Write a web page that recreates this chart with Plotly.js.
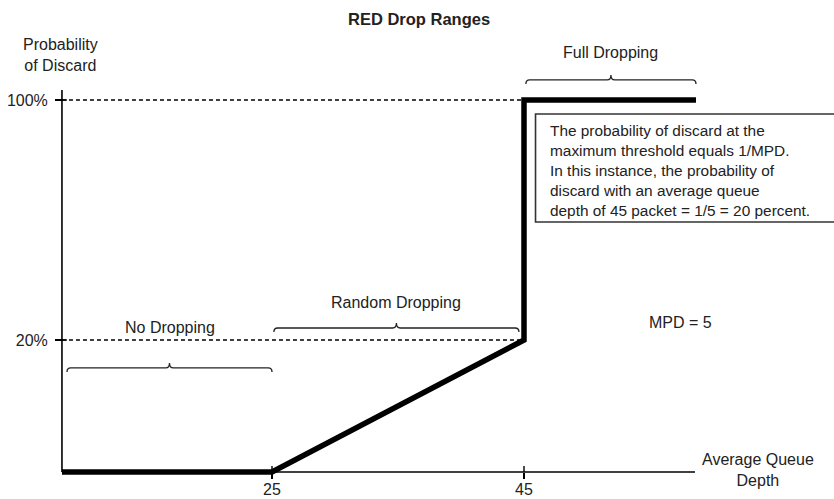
<!DOCTYPE html>
<html>
<head>
<meta charset="utf-8">
<script src="https://cdn.plot.ly/plotly-3.0.1.min.js"></script>
<style>
  html, body { margin: 0; padding: 0; background: #ffffff; }
  #chart { width: 834px; height: 499px; }
</style>
</head>
<body>
<div id="chart"></div>
<script>
// ---------------- data ----------------
const queueDepth = [8.33, 25, 45, 45, 58.65];        // average queue depth (packets)
const dropProbability = [0, 0, 20, 100, 100];         // probability of discard (%)
const xTickValues = [25, 45];
const xTickText = ['25', '45'];
const yTickValues = [20, 100];
const yTickText = ['20%', '100%'];
const rangeNames = ['No Dropping', 'Random Dropping', 'Full Dropping'];
const rangeStart = [8.33, 25, 45];
const rangeEnd = [25, 45, 58.65];
const mpdLabel = 'MPD = 5';
const noteLines = [
  'The probability of discard at the',
  'maximum threshold equals 1/MPD.',
  'In this instance, the probability of',
  'discard with an average queue',
  'depth of 45 packet = 1/5 = 20 percent.'
];

// ---------------- schematic scale ----------------
// The diagram is not to scale below 20 %: that band is stretched.
function toAxis(p) { return p >= 20 ? p : 20 - (20 - p) * 2.2; }

const X_MIN = queueDepth[0];
const X_MAX = 58.57;
const Y_FLOOR = toAxis(0);
const Y_TOP = 103.33;

const TXT = '#222222';
const FONT = 'Liberation Sans, Arial, Helvetica, sans-serif';

const trace = {
  x: queueDepth,
  y: dropProbability.map(toAxis),
  type: 'scatter',
  mode: 'lines',
  line: { color: '#000000', width: 5.5, shape: 'linear' },
  hoverinfo: 'skip',
  showlegend: false
};

const shapes = [];
// axis lines
shapes.push({ type: 'line', xref: 'x', yref: 'y', x0: X_MIN, x1: X_MIN, y0: Y_FLOOR, y1: Y_TOP,
  line: { color: '#000', width: 1.6 } });
shapes.push({ type: 'line', xref: 'x', yref: 'y', x0: X_MIN, x1: X_MAX, y0: Y_FLOOR, y1: Y_FLOOR,
  line: { color: '#000', width: 1.4 } });
// inner halves of the crossing tick marks
xTickValues.forEach(v => shapes.push({ type: 'line', xref: 'x', yref: 'y', ysizemode: 'pixel',
  yanchor: Y_FLOOR, x0: v, x1: v, y0: 0, y1: 6, line: { color: '#000', width: 1.4 } }));
yTickValues.forEach(v => shapes.push({ type: 'line', xref: 'x', yref: 'y', xsizemode: 'pixel',
  xanchor: X_MIN, x0: 0, x1: 5, y0: toAxis(v), y1: toAxis(v), line: { color: '#000', width: 1.4 } }));
// dashed reference lines
yTickValues.forEach(v => shapes.push({ type: 'line', xref: 'x', yref: 'y', x0: X_MIN, x1: xTickValues[1],
  y0: toAxis(v), y1: toAxis(v), line: { color: '#000', width: 1.5, dash: '4px,3px' } }));

// braces
const braceLevel = [10.7, 24, 106.7];
const labelShift = [40, 26, 27];
function bracePath(a, b) {
  const m = (a + b) / 2, r = 0.3;
  return `M ${a},-4 Q ${a},0 ${a + r},0 L ${m - r},0 Q ${m},0 ${m},5 Q ${m},0 ${m + r},0 L ${b - r},0 Q ${b},0 ${b},-4`;
}
const annotations = [];
rangeNames.forEach((name, i) => {
  const a = rangeStart[i] + (i === 0 ? 0.4 : 0.15);
  const b = rangeEnd[i] - (i === 1 ? 0.4 : 0);
  shapes.push({ type: 'path', xref: 'x', yref: 'y', ysizemode: 'pixel', yanchor: braceLevel[i],
    path: bracePath(a, b), line: { color: '#222', width: 1.3 } });
  annotations.push({ xref: 'x', yref: 'y', x: (a + b) / 2, y: braceLevel[i], yshift: labelShift[i],
    text: name, showarrow: false, xanchor: 'center', yanchor: 'middle',
    font: { family: FONT, size: 16, color: TXT } });
});

// note box
shapes.push({ type: 'rect', xref: 'paper', yref: 'paper', x0: 0.745, x1: 1.26, y0: 0.6275, y1: 0.892,
  line: { color: '#333', width: 1.6 }, fillcolor: 'rgba(255,255,255,0)' });
annotations.push({ xref: 'paper', yref: 'paper', x: 0.7643, y: 0.7525, xanchor: 'left', yanchor: 'middle',
  align: 'left', showarrow: false, text: noteLines.join('<br>'),
  font: { family: FONT, size: 15.4, color: TXT } });

annotations.push({ xref: 'paper', yref: 'paper', x: 0.9705, y: 0.38, showarrow: false,
  text: mpdLabel, xanchor: 'center', yanchor: 'middle', font: { family: FONT, size: 16, color: TXT } });
annotations.push({ xref: 'paper', yref: 'paper', x: 0.0093, y: 1.0368, showarrow: false,
  text: 'Probability<br>of Discard', xanchor: 'center', yanchor: 'middle', align: 'center',
  font: { family: FONT, size: 16, color: TXT } });
annotations.push({ xref: 'paper', yref: 'paper', x: 1.09, y: 0.0196, showarrow: false,
  text: 'Average Queue<br>Depth', xanchor: 'center', yanchor: 'middle', align: 'center',
  font: { family: FONT, size: 16, color: TXT } });

const layout = {
  width: 834, height: 499,
  margin: { l: 55, r: 134, t: 70, b: 21, pad: 0 },
  paper_bgcolor: '#ffffff', plot_bgcolor: '#ffffff',
  hovermode: false,
  showlegend: false,
  title: { text: '<b>RED Drop Ranges</b>', xref: 'container', yref: 'container',
    x: 0.5025, y: 0.962, xanchor: 'center', yanchor: 'middle',
    font: { family: FONT, size: 16.5, color: TXT } },
  xaxis: {
    range: [7.778, 58.968], anchor: 'free', position: 0.0147,
    showgrid: false, zeroline: false, showline: false,
    tickmode: 'array', tickvals: xTickValues, ticktext: xTickText,
    ticks: 'outside', ticklen: 6, tickwidth: 1.4, tickcolor: '#000',
    ticklabelstandoff: -3,
    tickfont: { family: FONT, size: 16, color: TXT }, fixedrange: true
  },
  yaxis: {
    range: [-26, 110], anchor: 'free', position: 0.01085,
    showgrid: false, zeroline: false, showline: false,
    tickmode: 'array', tickvals: yTickValues.map(toAxis), ticktext: yTickText,
    ticks: 'outside', ticklen: 7, tickwidth: 1.4, tickcolor: '#000',
    ticklabelstandoff: 4,
    tickfont: { family: FONT, size: 16, color: TXT }, fixedrange: true
  },
  shapes: shapes,
  annotations: annotations
};

Plotly.newPlot('chart', [trace], layout, { staticPlot: true, displayModeBar: false });
</script>
</body>
</html>
